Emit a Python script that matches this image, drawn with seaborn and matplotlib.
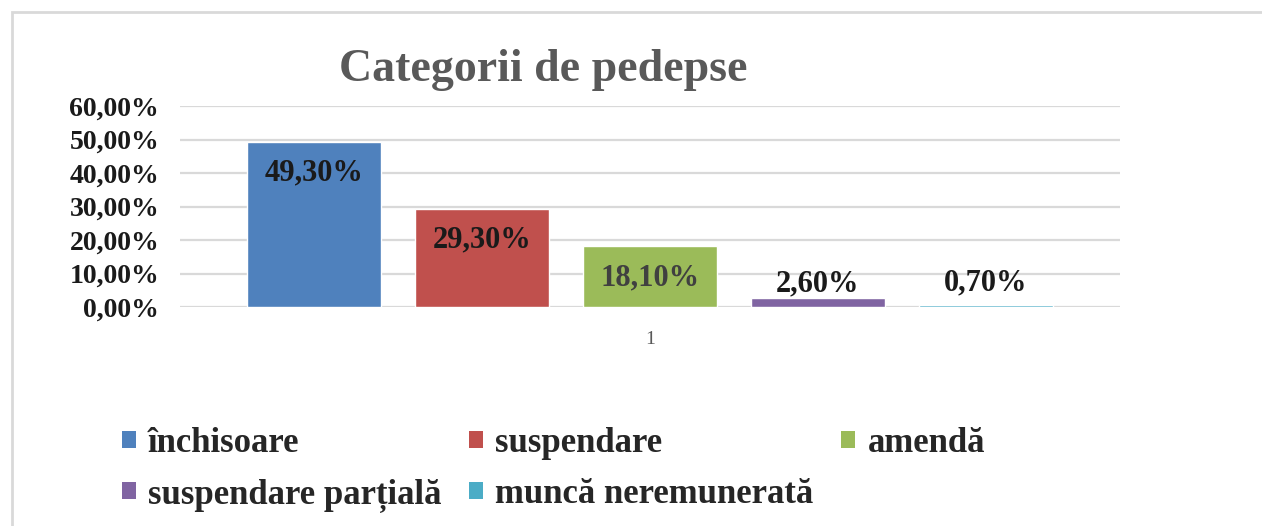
import seaborn as sns
import matplotlib.pyplot as plt
import matplotlib.patches as mpatches
from matplotlib.ticker import FuncFormatter
import pandas as pd

# -------------------------------
# data
# -------------------------------
categories = ["închisoare", "suspendare", "amendă", "suspendare parțială", "muncă neremunerată"]
values = [49.3, 29.3, 18.1, 2.6, 0.7]
group = ["1"] * len(categories)
colors = ["#4f81bd", "#c0504d", "#9bbb59", "#8064a2", "#4bacc6"]

df = pd.DataFrame({"grup": group, "categorie": categories, "procent": values})

sns.set_style("white")
plt.rcParams["font.family"] = ["Liberation Serif", "DejaVu Serif"]

W, H = 1262, 526
fig = plt.figure(figsize=(W / 100, H / 100), dpi=100)
ax = fig.add_axes([180 / W, 1 - 307 / H, 940 / W, 201 / H])

sns.barplot(data=df, x="grup", y="procent", hue="categorie", hue_order=categories,
            palette=colors, gap=0.2, legend=False, saturation=1, ax=ax, zorder=3)

ax.set_ylim(0, 60)
ax.set_xlim(-0.448, 0.448)
ax.set_yticks(range(0, 61, 10))
ax.yaxis.set_major_formatter(FuncFormatter(lambda v, p: f"{v:.2f}%".replace(".", ",")))
ax.yaxis.grid(True, color="#d9d9d9", linewidth=1.6, zorder=0)
ax.set_axisbelow(True)
for s in ax.spines.values():
    s.set_visible(False)
ax.tick_params(axis="y", length=0, pad=15, labelsize=20, labelcolor="#1a1a1a")
ax.tick_params(axis="x", length=0, pad=17, labelsize=14, labelcolor="#595959")
for t in ax.get_yticklabels():
    t.set_fontweight("bold")
ax.set_xlabel("")
ax.set_ylabel("")

# value labels
fmt = lambda v: f"{v:.2f}%".replace(".", ",")
pads = [-33, -33, -33, 0, 5]
for cont, v, p in zip(ax.containers, values, pads):
    ax.bar_label(cont, labels=[fmt(v)], padding=p, fontsize=22, fontweight="bold",
                 color="#404040" if v == 18.1 else "#1a1a1a")

fig.text(543 / W, 1 - 70 / H, "Categorii de pedepse", ha="center", va="center",
         fontsize=33, fontweight="bold", color="#595959")

# legend (row-major order)
handles = [mpatches.Patch(facecolor=c, edgecolor="none") for c in colors]
order = [0, 3, 1, 4, 2]
leg = fig.legend([handles[i] for i in order], [categories[i] for i in order],
                 ncol=3, loc="upper left", bbox_to_anchor=(122 / W, 1 - 427 / H),
                 frameon=False, borderpad=0, borderaxespad=0,
                 handlelength=0.4, handleheight=0.4, handletextpad=0.35,
                 labelspacing=0.52, columnspacing=0.8,
                 prop={"size": 25, "weight": "bold"})

# outer chart frame
fig.patches.append(mpatches.Rectangle((12 / W, -0.1), 1.2, 1 - 12 / H + 0.1,
                                      transform=fig.transFigure, fill=False,
                                      edgecolor="#d9d9d9", linewidth=2))

fig.savefig("out.png", dpi=100)
plt.close()
